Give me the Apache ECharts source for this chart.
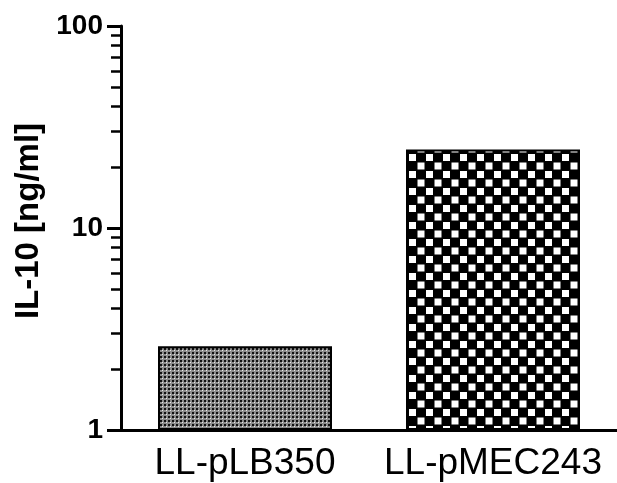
<!DOCTYPE html>
<html>
<head>
<meta charset="utf-8">
<script src="https://cdn.jsdelivr.net/npm/echarts@6/dist/echarts.min.js"></script>
<style>
html,body{margin:0;padding:0;background:#fff;}
#chart{width:617px;height:483px;}
</style>
</head>
<body>
<div id="chart"></div>
<script>
// ---- data ----
var categories = ['LL-pLB350', 'LL-pMEC243'];
var values = [2.6, 24.5];
var yAxisName = 'IL-10 [ng/ml]';
var majorTickValues = [1, 10, 100];
var minorTickValues = [2, 3, 4, 5, 6, 7, 8, 9, 20, 30, 40, 50, 60, 70, 80, 90];

// ---- patterns ----
function makeFinePattern() {
  var c = document.createElement('canvas');
  c.width = 4; c.height = 4;
  var g = c.getContext('2d');
  g.fillStyle = '#8c8c8c'; g.fillRect(0, 0, 4, 4);
  g.fillStyle = '#111'; g.fillRect(0, 0, 2, 2);
  g.fillStyle = '#e8e8e8'; g.fillRect(2, 2, 1, 1);
  return c;
}
function makeCheckerPattern() {
  var c = document.createElement('canvas');
  c.width = 17; c.height = 17;
  var g = c.getContext('2d');
  g.fillStyle = '#000'; g.fillRect(0, 0, 17, 17);
  g.fillStyle = '#fff';
  g.fillRect(1, 1, 7, 7);
  g.fillRect(9.5, 9.5, 7, 7);
  return c;
}
var patterns = [makeFinePattern(), makeCheckerPattern()];

var chart = echarts.init(document.getElementById('chart'));
chart.setOption({
  animation: false,
  backgroundColor: '#fff',
  grid: { left: 121, top: 26, width: 502, height: 404, containLabel: false },
  xAxis: {
    type: 'category',
    data: categories,
    axisLine: { lineStyle: { color: '#000', width: 3 } },
    axisTick: { show: false },
    axisLabel: { interval: 0, hideOverlap: false, color: '#000', fontFamily: 'Liberation Sans, Arial', fontSize: 37, margin: 15 }
  },
  yAxis: [{
    type: 'log',
    logBase: 10,
    min: 1,
    max: 100,
    name: yAxisName,
    nameLocation: 'middle',
    nameGap: 74,
    nameTextStyle: { color: '#000', fontFamily: 'Liberation Sans, Arial', fontSize: 33, fontWeight: 'bold', padding: [0, 0, 0, 14] },
    axisLine: { show: true, lineStyle: { color: '#000', width: 3 } },
    axisTick: { show: true, length: 14, lineStyle: { color: '#000', width: 3 }, customValues: majorTickValues },
    axisLabel: { color: '#000', fontFamily: 'Liberation Sans, Arial', fontSize: 28, fontWeight: 'bold', margin: 18, customValues: majorTickValues },
    splitLine: { show: false }
  }, {
    type: 'log',
    logBase: 10,
    min: 1,
    max: 100,
    position: 'left',
    axisLine: { show: false },
    axisTick: { show: true, length: 10, lineStyle: { color: '#000', width: 2.5 }, customValues: minorTickValues },
    axisLabel: { show: false },
    splitLine: { show: false }
  }],
  series: [{
    type: 'bar',
    yAxisIndex: 0,
    barWidth: 174,
    data: values.map(function (v, i) {
      return {
        value: v,
        itemStyle: {
          color: { image: patterns[i], repeat: 'repeat' },
          borderColor: '#000',
          borderWidth: 2
        }
      };
    })
  }]
});
</script>
</body>
</html>
